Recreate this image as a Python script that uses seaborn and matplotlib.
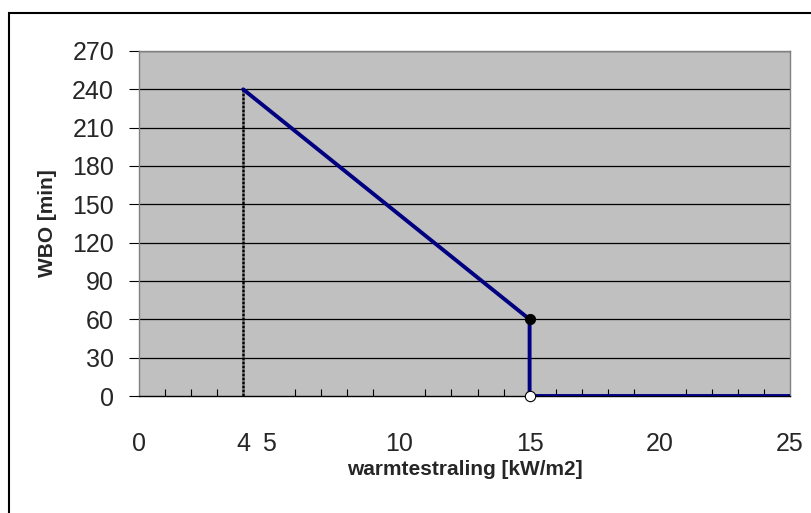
import matplotlib
matplotlib.use('Agg')
import matplotlib.pyplot as plt
import pandas as pd
import seaborn as sns
from matplotlib.patches import Rectangle
from matplotlib.ticker import MultipleLocator

# Data
straling = [4, 15, 15, 25]
wbo = [240, 60, 0, 0]
grens_x = [4, 4]
grens_y = [0, 240]
punt_vol_x = [15]
punt_vol_y = [60]
punt_open_x = [15]
punt_open_y = [0]
x_ticks = [0, 4, 5, 10, 15, 20, 25]
y_ticks = list(range(0, 271, 30))

sns.set_style('white')
plt.rcParams['font.family'] = ['Liberation Sans', 'DejaVu Sans']

df = pd.DataFrame({'x': straling, 'y': wbo})

fig = plt.figure(figsize=(8.12, 5.13), dpi=100)
# outer chart frame (only left/top visible in the picture)
fig.patches.append(Rectangle((9 / 812, -0.1), 1.2, 1 - 13 / 513 + 0.1,
                             transform=fig.transFigure, fill=False,
                             edgecolor='black', linewidth=1.5))
ax = fig.add_axes([139 / 812, 1 - 396 / 513, (790 - 139) / 812, (396 - 51) / 513])
ax.set_facecolor('#C0C0C0')

for y in y_ticks[1:]:
  ax.axhline(y, color='black', linewidth=0.9, zorder=1)

sns.lineplot(x=grens_x, y=grens_y, ax=ax, color='black', linewidth=1.8,
             linestyle=(0, (1.2, 0.4)), estimator=None, zorder=3)
sns.lineplot(data=df, x='x', y='y', ax=ax, color='#000080', linewidth=2.8,
             sort=False, estimator=None, zorder=4)
sns.scatterplot(x=punt_vol_x, y=punt_vol_y, ax=ax, color='black', s=55,
                edgecolor='black', zorder=5, clip_on=False)
sns.scatterplot(x=punt_open_x, y=punt_open_y, ax=ax, color='white', s=55,
                edgecolor='black', linewidth=0.8, zorder=5, clip_on=False)

ax.set_xlim(0, 25)
ax.set_ylim(0, 270)
ax.set_xticks(x_ticks)
ax.set_xticklabels([str(t) for t in x_ticks])
ax.set_yticks(y_ticks)
ax.xaxis.set_minor_locator(MultipleLocator(1))

for spine in ax.spines.values():
  spine.set_color('#808080')
  spine.set_linewidth(1)
ax.spines['bottom'].set_color('black')

ax.tick_params(axis='x', which='major', direction='out', length=7, width=0.8,
               color='#404040', pad=19, labelsize=18)
ax.tick_params(axis='x', which='minor', direction='in', length=5, width=0.8,
               color='black', bottom=True)
ax.tick_params(axis='y', which='major', direction='out', length=7, width=0.8,
               color='black', pad=11, labelsize=18, left=True)
ax.xaxis.get_major_ticks()[1].tick1line.set_visible(False)

ax.set_xlabel('warmtestraling [kW/m2]', fontsize=15, fontweight='bold',
              labelpad=3)
ax.set_ylabel('WBO [min]', fontsize=15, fontweight='bold', labelpad=11)

fig.savefig('out.png', dpi=100)
